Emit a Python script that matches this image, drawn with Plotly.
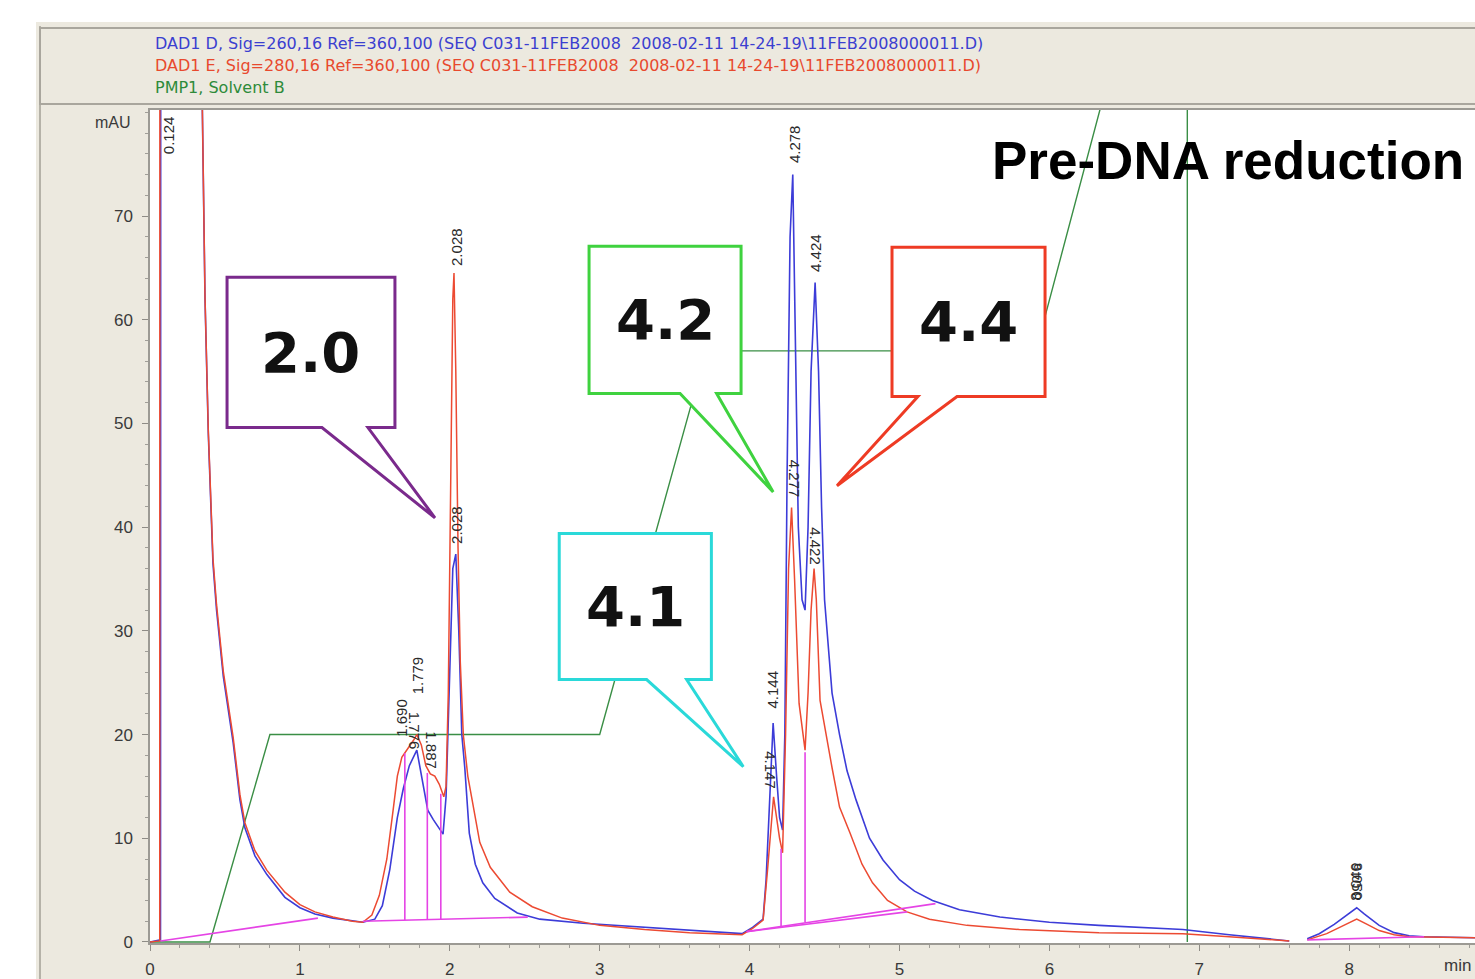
import plotly.graph_objects as go

# ---------------- data ----------------
# DAD1 D (blue) signal: retention time [min], absorbance [mAU]
blue_time = [0.000, 0.070, 0.075, 0.124, 0.330, 0.347, 0.356, 0.367, 0.389, 0.420,
             0.444, 0.489, 0.555, 0.600, 0.633, 0.700, 0.780, 0.900, 1.000, 1.100,
             1.220, 1.350, 1.420, 1.500, 1.550, 1.600, 1.650, 1.690, 1.730, 1.780,
             1.820, 1.853, 1.890, 1.930, 1.955, 1.975, 1.995, 2.020, 2.040, 2.060,
             2.080, 2.100, 2.130, 2.170, 2.220, 2.300, 2.450, 2.600, 2.890, 3.200,
             3.600, 3.950, 4.020, 4.090, 4.110, 4.130, 4.157, 4.180, 4.200, 4.220,
             4.235, 4.250, 4.270, 4.288, 4.305, 4.325, 4.350, 4.370, 4.390, 4.410,
             4.437, 4.460, 4.480, 4.500, 4.550, 4.600, 4.650, 4.710, 4.800, 4.890,
             5.000, 5.100, 5.220, 5.400, 5.670, 6.000, 6.330, 6.890, 7.200, 7.600,
             None, 7.720, 7.800, 7.900, 8.000, 8.050, 8.100, 8.200, 8.300, 8.400,
             8.500, 8.840]
blue_mau = [0.0, 0.2, 300.0, 300.0, 100.0, 80.0, 71.6, 62.0, 49.0, 36.5,
            32.0, 25.6, 19.2, 13.7, 11.0, 8.3, 6.5, 4.3, 3.3, 2.7,
            2.3, 2.0, 1.9, 2.2, 3.5, 7.0, 12.0, 14.8, 17.0, 18.5,
            15.5, 12.7, 11.8, 11.0, 10.4, 14.0, 25.0, 36.0, 37.4, 30.0,
            20.0, 16.8, 10.5, 7.5, 5.7, 4.2, 2.8, 2.2, 1.8, 1.5,
            1.1, 0.8, 1.4, 2.2, 6.0, 13.0, 21.1, 16.0, 12.0, 10.8,
            20.0, 45.0, 68.0, 74.0, 60.0, 40.0, 33.0, 32.0, 40.0, 55.0,
            63.6, 55.0, 42.0, 33.0, 24.0, 20.0, 16.5, 13.7, 10.0, 7.9,
            6.0, 4.9, 4.0, 3.1, 2.4, 1.9, 1.6, 1.2, 0.7, 0.1,
            None, 0.3, 0.8, 1.7, 2.8, 3.3, 2.7, 1.6, 0.9, 0.6,
            0.5, 0.4]

# DAD1 E (red) signal
red_time = [0.000, 0.065, 0.068, 0.124, 0.330, 0.347, 0.356, 0.367, 0.389, 0.420,
            0.444, 0.489, 0.555, 0.600, 0.633, 0.700, 0.780, 0.900, 1.000, 1.100,
            1.220, 1.350, 1.420, 1.480, 1.530, 1.580, 1.620, 1.650, 1.680, 1.720,
            1.760, 1.780, 1.810, 1.840, 1.870, 1.900, 1.930, 1.960, 1.975, 1.990,
            2.005, 2.020, 2.028, 2.040, 2.055, 2.070, 2.090, 2.120, 2.150, 2.200,
            2.270, 2.400, 2.550, 2.750, 3.000, 3.300, 3.600, 3.950, 4.020, 4.090,
            4.120, 4.160, 4.180, 4.200, 4.220, 4.240, 4.260, 4.280, 4.300, 4.330,
            4.370, 4.390, 4.410, 4.430, 4.445, 4.470, 4.550, 4.600, 4.670, 4.750,
            4.820, 4.920, 5.050, 5.200, 5.450, 5.800, 6.330, 6.890, 7.200, 7.600,
            None, 7.720, 7.850, 7.950, 8.050, 8.120, 8.200, 8.300, 8.400, 8.840]
red_mau = [0.0, 0.1, 300.0, 300.0, 100.0, 80.0, 71.8, 62.2, 49.3, 37.0,
           32.5, 26.1, 19.7, 14.2, 11.5, 8.8, 6.9, 4.8, 3.6, 2.9,
           2.4, 2.0, 1.9, 2.6, 4.5, 8.0, 12.5, 16.0, 17.8, 18.6,
           19.5, 20.0, 19.0, 17.0, 16.2, 16.0, 15.2, 14.0, 15.0, 24.0,
           45.0, 62.0, 64.5, 55.0, 38.0, 27.0, 20.0, 16.0, 13.6, 9.6,
           7.2, 4.8, 3.4, 2.3, 1.6, 1.2, 0.9, 0.7, 1.3, 2.1,
           7.0, 14.0, 12.0, 10.0, 8.6, 20.0, 36.0, 41.9, 35.0, 23.0,
           18.5, 24.0, 32.0, 36.0, 33.0, 23.3, 16.8, 13.0, 10.5, 7.5,
           5.7, 4.0, 2.9, 2.2, 1.6, 1.2, 0.9, 0.8, 0.5, 0.1,
           None, 0.2, 0.8, 1.5, 2.2, 1.7, 1.1, 0.7, 0.5, 0.4]

# PMP1, Solvent B (green) gradient trace [%]
solvent_time = [0.00, 0.40, 0.80, 3.00, 3.71, 5.91, 6.70, 6.92, 6.92]
solvent_pct = [0.0, 0.0, 20.0, 20.0, 57.0, 57.0, 100.0, 100.0, 0.0]

# integration baselines and peak drop-lines (magenta)
base_time = [0.07, 1.12, None, 1.42, 2.52, None, 1.70, 1.70, None, 1.85, 1.85, None,
             1.94, 1.94, None, 3.98, 5.05, None, 3.98, 5.24, None, 4.21, 4.21, None,
             4.37, 4.37, None, 7.72, 8.50]
base_mau = [0.1, 2.3, None, 2.0, 2.4, None, 2.1, 18.2, None, 2.15, 16.3, None,
            2.2, 14.3, None, 1.0, 2.9, None, 1.0, 3.7, None, 1.5, 9.0, None,
            1.9, 18.3, None, 0.2, 0.5]

# retention-time labels printed at the peaks
peak_label = ["0.124", "2.028", "2.028", "1.779", "1.690", "1.776", "1.887",
              "4.278", "4.424", "4.277", "4.422", "4.144", "4.147", "8.046", "8.050"]
peak_label_t = [0.12, 2.04, 2.04, 1.787, 1.68, 1.765, 1.88,
                4.30, 4.44, 4.30, 4.44, 4.153, 4.14, 8.045, 8.055]
peak_label_y = [77.8, 67.0, 40.2, 25.7, 21.6, 20.4, 18.5,
                76.9, 66.4, 44.7, 38.2, 24.3, 16.6, 5.8, 5.8]
peak_label_angle = [-90, -90, -90, -90, -90, 90, 90,
                    -90, -90, 90, 90, -90, 90, -90, 90]

# callout boxes: label, colour, box (t0, t1, y_bottom, y_top), tail base t's, tip (t, y)
callout_label = ["2.0", "4.2", "4.4", "4.1"]
callout_color = ["#7A2A8C", "#3FD23F", "#EE3B24", "#2AD9D9"]
callout_box = [(0.514, 1.634, 49.6, 64.1), (2.929, 3.943, 52.9, 67.1),
               (4.950, 5.971, 52.6, 67.0), (2.730, 3.745, 25.3, 39.4)]
callout_tail = [(1.147, 1.454), (3.536, 3.780), (5.123, 5.384), (3.313, 3.580)]
callout_tip = [(1.901, 40.9), (4.157, 43.4), (4.583, 44.0), (3.958, 16.9)]

# header legend lines
header_text = ["DAD1 D, Sig=260,16 Ref=360,100 (SEQ C031-11FEB2008  2008-02-11 14-24-19\\11FEB2008000011.D)",
               "DAD1 E, Sig=280,16 Ref=360,100 (SEQ C031-11FEB2008  2008-02-11 14-24-19\\11FEB2008000011.D)",
               "PMP1, Solvent B"]
header_color = ["#3B3FD0", "#E8492E", "#2E8B3A"]

x_ticks = [0, 1, 2, 3, 4, 5, 6, 7, 8]
y_ticks = [0, 10, 20, 30, 40, 50, 60, 70]

# ---------------- layout helpers ----------------
W, H = 1475, 979
ML, MT, MR, MB = 150, 110, 0, 36
PW, PH = W - ML - MR, H - MT - MB


def paper_x(px):
    return (px - ML) / PW


def paper_y(py):
    return (H - MB - py) / PH


BEIGE = "#ECE9DF"
BLUE = "#3C3CD8"
RED = "#EC4A32"
MAGENTA = "#E544E5"
GREEN = "#3A8E45"

fig = go.Figure()
fig.add_trace(go.Scatter(x=solvent_time, y=solvent_pct, mode="lines",
                         line=dict(color=GREEN, width=1.4), name="PMP1, Solvent B"))
fig.add_trace(go.Scatter(x=blue_time, y=blue_mau, mode="lines",
                         line=dict(color=BLUE, width=1.6), name="DAD1 D"))
fig.add_trace(go.Scatter(x=red_time, y=red_mau, mode="lines",
                         line=dict(color=RED, width=1.5), name="DAD1 E"))
fig.add_trace(go.Scatter(x=base_time, y=base_mau, mode="lines",
                         line=dict(color=MAGENTA, width=1.6), name="baseline"))

shapes = []
annotations = []

# page frame
shapes.append(dict(type="rect", xref="paper", yref="paper", x0=-0.3, x1=1.2,
                   y0=paper_y(22), y1=1.4, fillcolor="white", line=dict(width=0), layer="below"))
shapes.append(dict(type="rect", xref="paper", yref="paper", x0=-0.3, x1=paper_x(36),
                   y0=-0.2, y1=1.4, fillcolor="white", line=dict(width=0), layer="below"))
shapes.append(dict(type="line", xref="paper", yref="paper", x0=paper_x(40), x1=paper_x(40),
                   y0=-0.1, y1=paper_y(26), line=dict(color="#B5B2A8", width=2), layer="below"))
shapes.append(dict(type="rect", xref="paper", yref="paper", x0=paper_x(40), x1=1.02,
                   y0=paper_y(104), y1=paper_y(28), line=dict(color="#A9A69D", width=2),
                   fillcolor=BEIGE, layer="below"))

# callouts
for lab, col, box, tail, tip in zip(callout_label, callout_color, callout_box, callout_tail, callout_tip):
    t0, t1, yb, yt = box
    path = (f"M {t0},{yt} L {t1},{yt} L {t1},{yb} L {tail[1]},{yb} L {tip[0]},{tip[1]} "
            f"L {tail[0]},{yb} L {t0},{yb} Z")
    shapes.append(dict(type="path", xref="x", yref="y", path=path, fillcolor="white",
                       line=dict(color=col, width=3), layer="above"))
    annotations.append(dict(x=(t0 + t1) / 2, y=(yb + yt) / 2, xref="x", yref="y",
                            text=f"<b>{lab}</b>", showarrow=False,
                            font=dict(family="DejaVu Sans", size=56, color="#111111")))

# peak labels
for txt, t, y, ang in zip(peak_label, peak_label_t, peak_label_y, peak_label_angle):
    annotations.append(dict(x=t, y=y, xref="x", yref="y", text=txt, showarrow=False,
                            textangle=ang,
                            font=dict(family="Liberation Sans", size=15, color="#2a2a2a")))

# header lines
for i, (txt, col) in enumerate(zip(header_text, header_color)):
    annotations.append(dict(x=paper_x(153), y=paper_y(44 + 21.5 * i), xref="paper", yref="paper",
                            xanchor="left", yanchor="middle", text=txt, showarrow=False,
                            font=dict(family="DejaVu Sans", size=16, color=col)))

# axis unit labels
annotations.append(dict(x=paper_x(133), y=paper_y(122), xref="paper", yref="paper",
                        xanchor="right", yanchor="middle", text="mAU", showarrow=False,
                        font=dict(family="Liberation Sans", size=16, color="#3a3a3a")))
annotations.append(dict(x=paper_x(1473), y=paper_y(965), xref="paper", yref="paper",
                        xanchor="right", yanchor="middle", text="min", showarrow=False,
                        font=dict(family="Liberation Sans", size=17, color="#3a3a3a")))

# title text
annotations.append(dict(x=paper_x(1228), y=paper_y(161), xref="paper", yref="paper",
                        xanchor="center", yanchor="middle", text="<b>Pre-DNA reduction</b>",
                        showarrow=False,
                        font=dict(family="Liberation Sans", size=53, color="#000000")))

fig.update_layout(
    width=W, height=H,
    margin=dict(l=ML, r=MR, t=MT, b=MB, pad=0),
    paper_bgcolor=BEIGE, plot_bgcolor="white",
    showlegend=False,
    shapes=shapes, annotations=annotations,
    xaxis=dict(range=[0, PW / 149.9], tickvals=x_ticks, showgrid=False, zeroline=False,
               showline=True, linecolor="#9C9A94", linewidth=1.5, mirror=True,
               ticks="outside", ticklen=6, tickcolor="#8E8C86",
               minor=dict(dtick=0.2, ticks="outside", ticklen=3, tickcolor="#A09E98"),
               tickfont=dict(family="Liberation Sans", size=17, color="#3a3a3a"),
               ticklabelstandoff=4),
    yaxis=dict(range=[-0.1, PH / 10.37 - 0.1], tickvals=y_ticks, showgrid=False, zeroline=False,
               showline=True, linecolor="#9C9A94", linewidth=1.5,
               ticks="outside", ticklen=6, tickcolor="#8E8C86",
               minor=dict(dtick=2, ticks="outside", ticklen=3, tickcolor="#A09E98"),
               tickfont=dict(family="Liberation Sans", size=17, color="#3a3a3a"),
               ticklabelstandoff=6),
)

fig.write_html("out.html", post_script="document.body.style.margin='0';")
